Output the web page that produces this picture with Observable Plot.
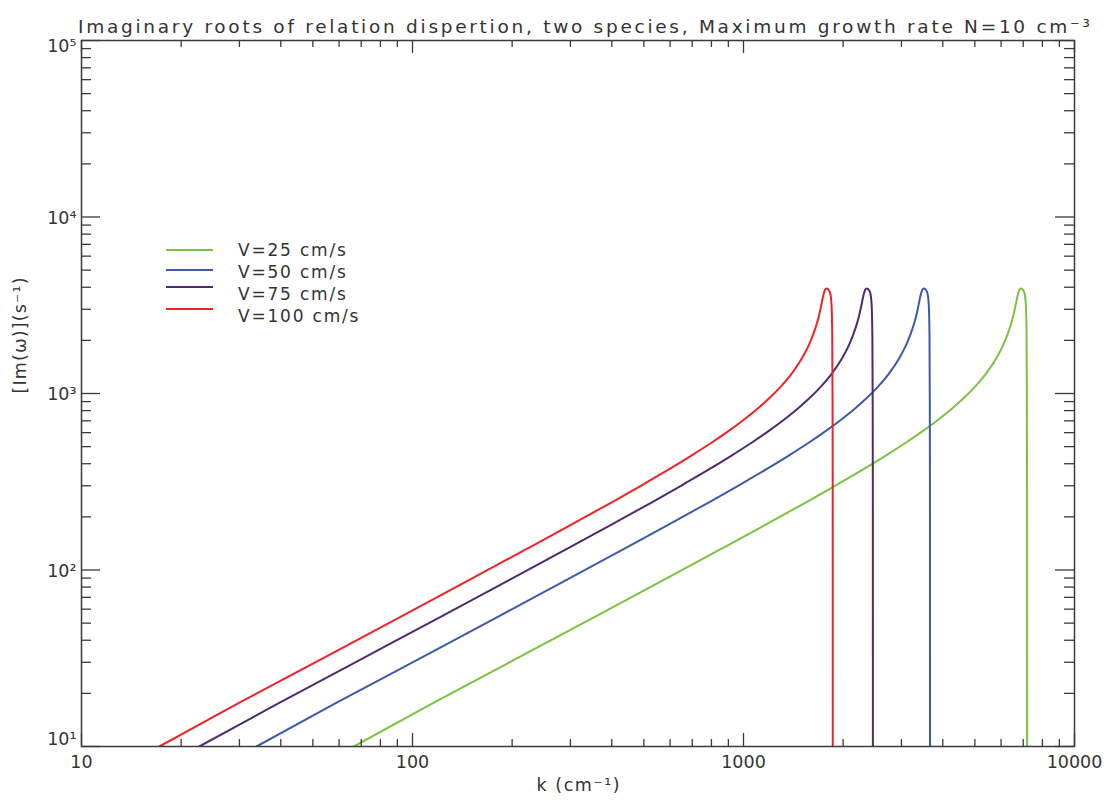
<!DOCTYPE html>
<html>
<head>
<meta charset="utf-8">
<script src="https://cdn.jsdelivr.net/npm/d3@7"></script>
<script src="https://cdn.jsdelivr.net/npm/@observablehq/plot@0.6"></script>
<style>
  body { margin: 0; background: #fff; }
  #wrap { position: relative; width: 1116px; height: 806px; font-family: "DejaVu Sans", sans-serif; }
  #legend { position: absolute; left: 166px; top: 240px; font-size: 17px; color: #333; letter-spacing: 1.8px; }
  .row { position: absolute; white-space: nowrap; }
  .sw { position: absolute; left: 0; width: 47px; height: 0; border-top: 2px solid; }
  .lt { position: absolute; left: 72px; }
</style>
</head>
<body>
<div id="wrap"></div>
<script>
// ---- data ----
const seriesNames = ["V=25 cm/s", "V=50 cm/s", "V=75 cm/s", "V=100 cm/s"];
const seriesColors = ["#7cc242", "#3b5ba9", "#52296f", "#ee2228"];

// growth rate values (s^-1), shared sample levels along each curve
const im25  = [10, 17.7, 29.5, 54.3, 88.8, 130.8, 179.5, 242, 307, 375, 448, 526, 612, 708, 817, 945, 1101, 1301, 1578, 1904, 2355, 2750, 3200, 3640, 3880, 3937, 3915, 3860, 3700, 3150, 2100, 900, 300, 5];
const im50  = [10, 17.7, 29.5, 54.3, 88.8, 130.8, 179.5, 242, 307, 375, 448, 526, 612, 708, 817, 945, 1101, 1301, 1578, 1904, 2355, 2750, 3200, 3640, 3880, 3937, 3915, 3860, 3700, 3150, 2100, 900, 300, 5];
const im75  = [10, 17.7, 29.5, 54.3, 88.8, 130.8, 179.5, 242, 307, 375, 448, 526, 612, 708, 817, 945, 1101, 1301, 1578, 1904, 2355, 2750, 3200, 3640, 3880, 3937, 3915, 3860, 3700, 3150, 2100, 900, 300, 5];
const im100 = [10, 17.7, 29.5, 54.3, 88.8, 130.8, 179.5, 242, 307, 375, 448, 526, 612, 708, 817, 945, 1101, 1301, 1578, 1904, 2355, 2750, 3200, 3640, 3880, 3937, 3915, 3860, 3700, 3150, 2100, 900, 300, 5];

// wavenumbers k (cm^-1)
const k25  = [66.5, 116, 193.3, 355.6, 579.8, 850.3, 1159.5, 1546, 1932.5, 2319, 2705.5, 3092, 3478.5, 3865, 4251.5, 4638, 5024.5, 5411, 5797.5, 6106.7, 6377.3, 6531.9, 6647.8, 6744.4, 6821.7, 6883.6, 6937.7, 6988, 7065.2, 7130.9, 7165.7, 7181.2, 7188.9, 7192.8];
const k50  = [33.8, 59, 98.4, 181, 295, 432.7, 590.1, 786.8, 983.5, 1180.2, 1376.9, 1573.6, 1770.3, 1967, 2163.7, 2360.4, 2557.1, 2753.8, 2950.5, 3107.9, 3245.6, 3324.2, 3383.2, 3432.4, 3471.8, 3503.2, 3530.8, 3556.3, 3595.7, 3629.1, 3646.8, 3654.7, 3658.6, 3660.6];
const k75  = [22.7, 39.7, 66.1, 121.6, 198.3, 290.8, 396.6, 528.8, 661, 793.2, 925.4, 1057.6, 1189.8, 1322, 1454.2, 1586.4, 1718.6, 1850.8, 1983, 2088.8, 2181.3, 2234.2, 2273.8, 2306.9, 2333.3, 2354.5, 2373, 2390.2, 2416.6, 2439.1, 2451, 2456.3, 2458.9, 2460.2];
const k100 = [17.2, 30, 50, 92, 150, 220, 300, 400, 500, 600, 700, 800, 900, 1000, 1100, 1200, 1300, 1400, 1500, 1580, 1650, 1690, 1720, 1745, 1765, 1781, 1795, 1808, 1828, 1845, 1854, 1858, 1860, 1861];

const xMajor = [10, 100, 1000, 10000];
const xMajorLabels = ["10", "100", "1000", "10000"];
const yMajor = [10, 100, 1000, 10000, 100000];
const yMajorLabels = ["10¹", "10²", "10³", "10⁴", "10⁵"];
const titleText = "Imaginary roots of relation dispertion, two species, Maximum growth rate N=10 cm⁻³";
const xLabel = "k (cm⁻¹)";
const yLabel = "[Im(ω)](s⁻¹)";

// ---- build table ----
const ks = [k25, k50, k75, k100];
const ims = [im25, im50, im75, im100];
const rows = [];
seriesNames.forEach((name, i) => ks[i].forEach((k, j) => rows.push({k, v: ims[i][j], s: name})));

const minorOf = (decs) => decs.flatMap(d => [2,3,4,5,6,7,8,9].map(m => m * d));
const xMinor = minorOf([10, 100, 1000]);
const yMinor = minorOf([10, 100, 1000, 10000]);

const W = 1116, H = 806, mL = 81, mR = 42, mT = 40, mB = 60;
const pw = W - mL - mR, ph = H - mT - mB;
const axisColor = "#3a3a3a";
const font = "DejaVu Sans";

const chart = Plot.plot({
  width: W, height: H,
  marginLeft: mL, marginRight: mR, marginTop: mT, marginBottom: mB,
  style: {fontFamily: font, background: "#fff", color: "#333"},
  x: {type: "log", domain: [10, 10000], axis: null},
  y: {type: "log", domain: [10, 100000], axis: null},
  color: {domain: seriesNames, range: seriesColors},
  marks: [
    Plot.line(rows, {x: "k", y: "v", z: "s", stroke: "s", strokeWidth: 2, curve: "monotone-x", clip: true}),
    // ticks (inward, all four sides)
    Plot.ruleX(xMajor, {x: d => d, insetTop: ph - 13, stroke: axisColor, strokeWidth: 1.3}),
    Plot.ruleX(xMajor, {x: d => d, insetBottom: ph - 13, stroke: axisColor, strokeWidth: 1.3}),
    Plot.ruleX(xMinor, {x: d => d, insetTop: ph - 7, stroke: axisColor, strokeWidth: 1.3}),
    Plot.ruleX(xMinor, {x: d => d, insetBottom: ph - 7, stroke: axisColor, strokeWidth: 1.3}),
    Plot.ruleY(yMajor, {y: d => d, insetRight: pw - 19, stroke: axisColor, strokeWidth: 1.3}),
    Plot.ruleY(yMajor, {y: d => d, insetLeft: pw - 19, stroke: axisColor, strokeWidth: 1.3}),
    Plot.ruleY(yMinor, {y: d => d, insetRight: pw - 10, stroke: axisColor, strokeWidth: 1.3}),
    Plot.ruleY(yMinor, {y: d => d, insetLeft: pw - 10, stroke: axisColor, strokeWidth: 1.3}),
    Plot.frame({stroke: axisColor, strokeWidth: 1.5}),
    // tick labels
    Plot.text(xMajor, {x: d => d, text: (d, i) => xMajorLabels[i], frameAnchor: "bottom", dy: 21, fontSize: 17.5, fill: "#333"}),
    Plot.text(yMajor.slice(0, 1), {y: d => d, text: (d, i) => yMajorLabels[0], frameAnchor: "left", textAnchor: "end", dx: -5, dy: -7, fontSize: 17.5, fill: "#333"}),
    Plot.text(yMajor.slice(1, 4), {y: d => d, text: (d, i) => yMajorLabels[i + 1], frameAnchor: "left", textAnchor: "end", dx: -5, dy: 1, fontSize: 17.5, fill: "#333"}),
    Plot.text(yMajor.slice(4), {y: d => d, text: (d, i) => yMajorLabels[4], frameAnchor: "left", textAnchor: "end", dx: -5, dy: 6, fontSize: 17.5, fill: "#333"}),
    // titles
    Plot.text([titleText], {text: d => d, frameAnchor: "top", dx: 6, dy: -21, fontSize: 18.5, fill: "#333"}),
    Plot.text([xLabel], {text: d => d, frameAnchor: "bottom", dy: 44, fontSize: 17.5, fill: "#333"}),
    Plot.text([yLabel], {text: d => d, frameAnchor: "left", rotate: -90, dx: -61, fontSize: 17.5, fill: "#333"})
  ]
});

// stretch title and axis labels to the reference widths
d3.select(chart).selectAll("text").each(function() {
  const t = this.textContent;
  if (t.startsWith("Imaginary")) { this.setAttribute("textLength", 1012); this.setAttribute("lengthAdjust", "spacing"); }
  if (t === xLabel) { this.setAttribute("textLength", 83); this.setAttribute("lengthAdjust", "spacing"); }
  if (t === yLabel) { this.setAttribute("textLength", 116); this.setAttribute("lengthAdjust", "spacing"); }
});

const wrap = document.getElementById("wrap");
wrap.appendChild(chart);

// legend
const legend = document.createElement("div");
legend.id = "legend";
const swY = [9, 29, 46, 68];
const txY = [0, 22, 44, 66];
seriesNames.forEach((name, i) => {
  const row = document.createElement("div");
  row.className = "row";
  row.style.top = "0px";
  const sw = document.createElement("div");
  sw.className = "sw";
  sw.style.borderTopColor = seriesColors[i];
  sw.style.top = swY[i] + "px";
  const tx = document.createElement("div");
  tx.className = "lt";
  tx.style.top = txY[i] + "px";
  tx.textContent = name;
  row.appendChild(sw);
  row.appendChild(tx);
  legend.appendChild(row);
});
wrap.appendChild(legend);
</script>
</body>
</html>
